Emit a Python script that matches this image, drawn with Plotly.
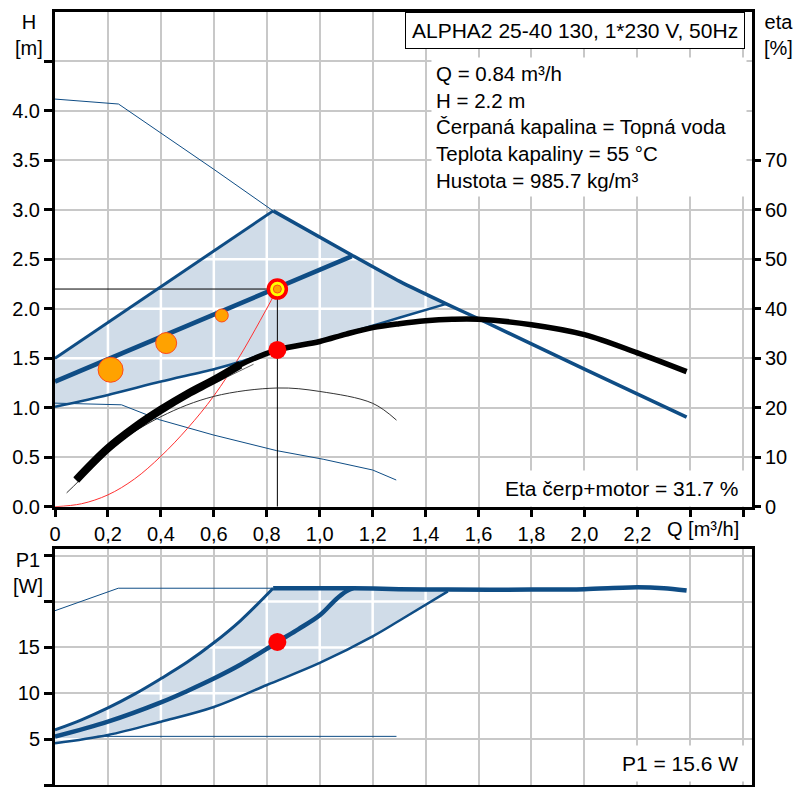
import plotly.graph_objects as go

# ---------------- data ----------------
X_TICKS = [0, 0.2, 0.4, 0.6, 0.8, 1.0, 1.2, 1.4, 1.6, 1.8, 2.0, 2.2, 2.4, 2.6]
X_TICK_TEXT = ["0", "0,2", "0,4", "0,6", "0,8", "1,0", "1,2", "1,4", "1,6", "1,8", "2,0", "2,2", "", ""]
H_TICKS = [0, 0.5, 1.0, 1.5, 2.0, 2.5, 3.0, 3.5, 4.0, 4.5]
H_TICK_TEXT = ["0.0", "0.5", "1.0", "1.5", "2.0", "2.5", "3.0", "3.5", "4.0", ""]
ETA_TICKS = [0, 10, 20, 30, 40, 50, 60, 70]
P_TICKS = [0, 5, 10, 15, 20, 25]
P_TICK_TEXT = ["0", "5", "10", "15", "", ""]

# H-Q curves [m]
MAXTHIN_Q = [0, 0.24, 0.60, 0.824]
MAXTHIN_H = [4.12, 4.07, 3.41, 2.99]
UPPER_Q = [0, 0.824]
UPPER_H = [1.50, 2.99]
MAX_Q = [0.824, 1.12, 1.302, 1.478, 1.6, 2.0, 2.386]
MAX_H = [2.99, 2.545, 2.277, 2.05, 1.90, 1.39, 0.905]
MID_Q = [0, 1.12]
MID_H = [1.265, 2.53]
LOWER_Q = [0, 0.2, 0.4, 0.6, 0.7, 0.84, 1.0, 1.2, 1.3, 1.478]
LOWER_H = [1.01, 1.13, 1.265, 1.39, 1.465, 1.59, 1.68, 1.83, 1.91, 2.05]
MIN_Q = [0, 0.251, 0.396, 0.597, 0.837, 1.013, 1.2, 1.289]
MIN_H = [1.047, 1.03, 0.878, 0.726, 0.567, 0.48, 0.371, 0.27]
SYS_Q = [0, 0.1, 0.2, 0.3, 0.4, 0.5, 0.6, 0.7, 0.84]
SYS_H = [0, 0.03, 0.12, 0.28, 0.51, 0.79, 1.12, 1.53, 2.2]

# efficiency curves [%]
ETA_Q = [0.08, 0.2, 0.3, 0.4, 0.5, 0.6, 0.7, 0.84, 1.0, 1.1, 1.2, 1.3, 1.4, 1.5, 1.6, 1.8, 2.0, 2.2, 2.386]
ETA = [5.4, 11.8, 16.0, 19.6, 22.8, 25.6, 28.7, 31.7, 33.4, 34.9, 36.2, 37.0, 37.6, 37.9, 37.9, 36.8, 34.8, 31.1, 27.3]
ETA_T1_Q = [0.044, 0.09, 0.2, 0.4, 0.6, 0.84, 1.0, 1.2, 1.29]
ETA_T1 = [2.8, 5.2, 11.4, 18.2, 22.3, 24.0, 23.3, 20.9, 17.5]
ETA_T2_Q = [0.33, 0.45, 0.55, 0.65, 0.75]
ETA_T2 = [17.4, 20.8, 23.6, 26.2, 28.8]

# load-profile points
LP_Q = [0.21, 0.42, 0.63]
LP_H = [1.384, 1.654, 1.933]

# duty point
Q_OP = 0.84
H_OP = 2.2
ETA_OP = 31.7
P1_OP = 15.6

# P1-Q curves [W]
P_UP_Q = [0, 0.1, 0.2, 0.3, 0.4, 0.5, 0.6, 0.7, 0.824]
P_UP = [6.0, 7.1, 8.4, 9.9, 11.6, 13.4, 15.5, 17.9, 21.45]
P_MID_Q = [0, 0.2, 0.4, 0.5, 0.6, 0.7, 0.8, 0.84, 0.92, 1.0, 1.06, 1.10, 1.126]
P_MID = [5.27, 6.9, 9.0, 10.25, 11.6, 13.1, 14.85, 15.6, 17.0, 18.5, 20.2, 21.1, 21.45]
P_LOW_Q = [0, 0.2, 0.4, 0.6, 0.8, 1.0, 1.2, 1.3, 1.484]
P_LOW = [4.55, 5.45, 6.9, 8.5, 10.9, 13.3, 16.2, 17.9, 21.1]
P_TOP_Q = [0.824, 1.126, 1.3, 1.484, 1.8, 2.0, 2.2, 2.3, 2.386]
P_TOP = [21.45, 21.45, 21.35, 21.3, 21.3, 21.35, 21.55, 21.45, 21.2]
P_THIN_TOP_Q = [0, 0.239, 0.824]
P_THIN_TOP = [19.0, 21.45, 21.45]
P_THIN_LOW_Q = [0.16, 1.29]
P_THIN_LOW = [5.3, 5.3]

# ---------------- styles ----------------
BLUE = "#0F4D85"
FILL = "rgb(208,220,232)"
GRID = "#C8C8C8"
FONT = "Liberation Sans, Arial, sans-serif"


def clip_grid(pxs, pys, vals, vertical):
    """Pieces of grid lines lying inside a polygon (drawn white over the fill)."""
    xs, ys = [], []
    n = len(pxs)
    for c in vals:
        hits = []
        for i in range(n):
            x1, y1 = pxs[i], pys[i]
            x2, y2 = pxs[(i + 1) % n], pys[(i + 1) % n]
            a1, b1, a2, b2 = (x1, y1, x2, y2) if vertical else (y1, x1, y2, x2)
            if (a1 <= c < a2) or (a2 <= c < a1):
                t = (c - a1) / (a2 - a1)
                hits.append(b1 + t * (b2 - b1))
        hits.sort()
        for j in range(0, len(hits) - 1, 2):
            if vertical:
                xs += [c, c, None]
                ys += [hits[j], hits[j + 1], None]
            else:
                xs += [hits[j], hits[j + 1], None]
                ys += [c, c, None]
    return xs, ys


fig = go.Figure()

# ---------- top plot: H-Q ----------
q_lim = LOWER_Q[-1]
poly_q = UPPER_Q + [q for q in MAX_Q[1:] if q <= q_lim] + LOWER_Q[::-1]
poly_h = UPPER_H + [h for q, h in zip(MAX_Q[1:], MAX_H[1:]) if q <= q_lim] + LOWER_H[::-1]
fig.add_trace(go.Scatter(x=poly_q, y=poly_h, fill="toself", fillcolor=FILL, mode="none",
                         xaxis="x", yaxis="y", hoverinfo="skip"))
vx, vy = clip_grid(poly_q, poly_h, X_TICKS[1:], True)
hx, hy = clip_grid(poly_q, poly_h, H_TICKS[1:], False)
fig.add_trace(go.Scatter(x=vx + hx, y=vy + hy, mode="lines", line=dict(color="white", width=2.5),
                         xaxis="x", yaxis="y", hoverinfo="skip"))

thin = dict(color=BLUE, width=1)
fig.add_trace(go.Scatter(x=MAXTHIN_Q, y=MAXTHIN_H, mode="lines", line=thin, xaxis="x", yaxis="y"))
fig.add_trace(go.Scatter(x=MIN_Q, y=MIN_H, mode="lines", line=thin, xaxis="x", yaxis="y"))
fig.add_trace(go.Scatter(x=SYS_Q, y=SYS_H, mode="lines", line=dict(color="#FF3030", width=1, shape="spline"),
                         xaxis="x", yaxis="y"))
fig.add_trace(go.Scatter(x=[0, Q_OP, Q_OP], y=[H_OP, H_OP, 0], mode="lines",
                         line=dict(color="black", width=1), xaxis="x", yaxis="y"))
fig.add_trace(go.Scatter(x=LOWER_Q, y=LOWER_H, mode="lines",
                         line=dict(color=BLUE, width=2.5, shape="spline", smoothing=0.8),
                         xaxis="x", yaxis="y"))
fig.add_trace(go.Scatter(x=UPPER_Q, y=UPPER_H, mode="lines", line=dict(color=BLUE, width=3),
                         xaxis="x", yaxis="y"))
fig.add_trace(go.Scatter(x=MAX_Q, y=MAX_H, mode="lines",
                         line=dict(color=BLUE, width=3.5, shape="spline", smoothing=0.5),
                         xaxis="x", yaxis="y"))
fig.add_trace(go.Scatter(x=MID_Q, y=MID_H, mode="lines", line=dict(color=BLUE, width=4.5),
                         xaxis="x", yaxis="y"))
fig.add_trace(go.Scatter(x=LP_Q, y=LP_H, mode="markers",
                         marker=dict(size=[25, 21, 13], color="#FFA200", opacity=1,
                                     line=dict(color="#FF4A1A", width=1)),
                         xaxis="x", yaxis="y"))
fig.add_trace(go.Scatter(x=[Q_OP], y=[H_OP], mode="markers",
                         marker=dict(size=18, color="#FFFF00", opacity=1, line=dict(color="#FF0000", width=3.5)),
                         xaxis="x", yaxis="y"))
fig.add_trace(go.Scatter(x=[Q_OP], y=[H_OP], mode="markers",
                         marker=dict(size=8, color="#FFA200", opacity=1, line=dict(color="#FF4A1A", width=1)),
                         xaxis="x", yaxis="y"))

# efficiency (right axis)
fig.add_trace(go.Scatter(x=ETA_T1_Q, y=ETA_T1, mode="lines", line=dict(color="#333333", width=1, shape="spline"),
                         xaxis="x", yaxis="y3"))
fig.add_trace(go.Scatter(x=ETA_T2_Q, y=ETA_T2, mode="lines", line=dict(color="#666666", width=1, shape="spline"),
                         xaxis="x", yaxis="y3"))
# several coinciding curves make the low-flow part look heavier
n_heavy = ETA_Q.index(0.7) + 1
fig.add_trace(go.Scatter(x=ETA_Q[:n_heavy], y=ETA[:n_heavy], mode="lines",
                         line=dict(color="black", width=8, shape="spline", smoothing=1),
                         xaxis="x", yaxis="y3"))
fig.add_trace(go.Scatter(x=ETA_Q, y=ETA, mode="lines", line=dict(color="black", width=5.5, shape="spline", smoothing=1),
                         xaxis="x", yaxis="y3"))
fig.add_trace(go.Scatter(x=[Q_OP], y=[ETA_OP], mode="markers", marker=dict(size=18, color="#FF0000", opacity=1),
                         xaxis="x", yaxis="y3"))

# ---------- bottom plot: P1-Q ----------
p_lim = P_LOW_Q[-1]
ppoly_q = P_UP_Q + [q for q in P_TOP_Q[1:] if q <= p_lim] + P_LOW_Q[::-1]
ppoly_p = P_UP + [p for q, p in zip(P_TOP_Q[1:], P_TOP[1:]) if q <= p_lim] + P_LOW[::-1]
fig.add_trace(go.Scatter(x=ppoly_q, y=ppoly_p, fill="toself", fillcolor=FILL, mode="none",
                         xaxis="x2", yaxis="y2", hoverinfo="skip"))
vx, vy = clip_grid(ppoly_q, ppoly_p, X_TICKS[1:], True)
hx, hy = clip_grid(ppoly_q, ppoly_p, P_TICKS[1:], False)
fig.add_trace(go.Scatter(x=vx + hx, y=vy + hy, mode="lines", line=dict(color="white", width=2.5),
                         xaxis="x2", yaxis="y2", hoverinfo="skip"))
fig.add_trace(go.Scatter(x=P_THIN_TOP_Q, y=P_THIN_TOP, mode="lines", line=thin, xaxis="x2", yaxis="y2"))
fig.add_trace(go.Scatter(x=P_THIN_LOW_Q, y=P_THIN_LOW, mode="lines", line=thin, xaxis="x2", yaxis="y2"))
fig.add_trace(go.Scatter(x=P_LOW_Q, y=P_LOW, mode="lines",
                         line=dict(color=BLUE, width=2.5, shape="spline", smoothing=1),
                         xaxis="x2", yaxis="y2"))
fig.add_trace(go.Scatter(x=P_UP_Q, y=P_UP, mode="lines",
                         line=dict(color=BLUE, width=3, shape="spline", smoothing=1),
                         xaxis="x2", yaxis="y2"))
fig.add_trace(go.Scatter(x=P_TOP_Q, y=P_TOP, mode="lines",
                         line=dict(color=BLUE, width=4.5, shape="spline", smoothing=0.8),
                         xaxis="x2", yaxis="y2"))
fig.add_trace(go.Scatter(x=P_MID_Q, y=P_MID, mode="lines",
                         line=dict(color=BLUE, width=4.5, shape="spline", smoothing=1),
                         xaxis="x2", yaxis="y2"))
fig.add_trace(go.Scatter(x=[Q_OP], y=[P1_OP], mode="markers", marker=dict(size=18, color="#FF0000", opacity=1),
                         xaxis="x2", yaxis="y2"))

# ---------- axes ----------
ax_common = dict(showgrid=True, gridcolor=GRID, gridwidth=1.5, zeroline=False, showline=True,
                 linecolor="black", linewidth=3, mirror=True, tickmode="array",
                 tickfont=dict(family=FONT, size=20, color="black"), tickcolor="black")

fig.update_layout(
    width=806, height=787, template="none", showlegend=False,
    margin=dict(l=55, r=54, t=12, b=2),
    plot_bgcolor="white", paper_bgcolor="white",
    font=dict(family=FONT, size=20, color="black"),
    xaxis=dict(domain=[0, 1], anchor="y", range=[0, 2.633], tickvals=X_TICKS, ticktext=X_TICK_TEXT,
               ticks="outside", ticklen=7, tickwidth=3, **ax_common),
    yaxis=dict(domain=[0.36, 1], anchor="x", range=[0, 5.0], tickvals=H_TICKS, ticktext=H_TICK_TEXT,
               ticks="outside", ticklen=8, tickwidth=3, **ax_common),
    yaxis3=dict(overlaying="y", anchor="x", side="right", range=[0, 100], tickmode="array", tickvals=ETA_TICKS,
                showgrid=False, zeroline=False, showline=False, ticks="outside", ticklen=8, tickwidth=3,
                tickcolor="black", tickfont=dict(family=FONT, size=20, color="black")),
    xaxis2=dict(domain=[0, 1], anchor="y2", range=[0, 2.633], tickvals=X_TICKS, showticklabels=False,
                ticks="", **ax_common),
    yaxis2=dict(domain=[0, 0.305], anchor="x2", range=[0, 25.7], tickvals=P_TICKS, ticktext=P_TICK_TEXT,
                ticks="outside", ticklen=8, tickwidth=3, **ax_common),
)

# ---------- texts ----------
def px2paper(xp, yp):
    return (xp - 55) / 697, (785 - yp) / 773

ann = []
x, y = px2paper(29, 9)
ann.append(dict(text="H<br>[m]", x=x, y=y, xanchor="center", yanchor="top", font=dict(size=20)))
x, y = px2paper(778, 9)
ann.append(dict(text="eta<br>[%]", x=x, y=y, xanchor="center", yanchor="top", font=dict(size=20)))
x, y = px2paper(28, 547)
ann.append(dict(text="P1<br>[W]", x=x, y=y, xanchor="center", yanchor="top", font=dict(size=20)))
x, y = px2paper(703, 529)
ann.append(dict(text="Q [m³/h]", x=x, y=y, xanchor="center", yanchor="middle", font=dict(size=20)))
x, y = px2paper(745, 12)
ann.append(dict(text="ALPHA2 25-40 130, 1*230 V, 50Hz", x=x, y=y, xanchor="right", yanchor="top",
                bgcolor="white", bordercolor="black", borderwidth=1, borderpad=6, font=dict(size=21)))
x, y = px2paper(431, 57)
ann.append(dict(text=f"Q = {Q_OP} m³/h<br>H = {H_OP} m<br>Čerpaná kapalina = Topná voda<br>"
                     "Teplota kapaliny = 55 °C<br>Hustota = 985.7 kg/m³",
                x=x, y=y, xanchor="left", yanchor="top", align="left", bgcolor="white", borderpad=4,
                width=306, font=dict(size=20.5)))
x, y = px2paper(745, 488)
ann.append(dict(text=f"Eta čerp+motor = {ETA_OP} %", x=x, y=y, xanchor="right", yanchor="middle",
                bgcolor="white", borderpad=6, font=dict(size=21)))
x, y = px2paper(745, 763)
ann.append(dict(text=f"P1 = {P1_OP} W", x=x, y=y, xanchor="right", yanchor="middle",
                bgcolor="white", borderpad=6, font=dict(size=21)))
for a in ann:
    a.update(xref="paper", yref="paper", showarrow=False)
    a["font"] = dict(family=FONT, color="black", **a["font"])
fig.update_layout(annotations=ann)

fig.write_html("out.html")
